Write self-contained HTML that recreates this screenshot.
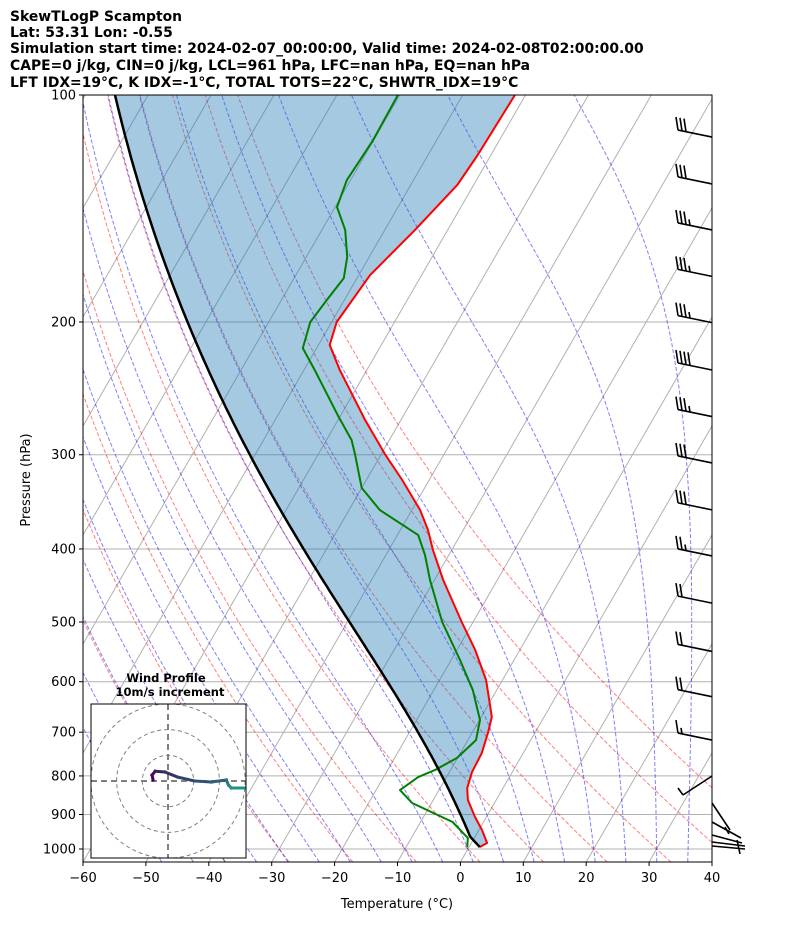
<!DOCTYPE html>
<html><head><meta charset="utf-8">
<style>
body{margin:0;background:#fff;}
svg{display:block;font-family:"DejaVu Sans","Liberation Sans",sans-serif;}
</style></head>
<body>
<svg id="chart" width="794" height="937" viewBox="0 0 794 937" xmlns="http://www.w3.org/2000/svg">
<defs><clipPath id="plotclip"><rect x="83" y="95" width="629" height="767"/></clipPath>
<clipPath id="hodoclip"><rect x="91" y="704" width="155" height="154"/></clipPath></defs>
<g font-weight="bold" font-size="13.9" fill="#000" style="white-space:pre">
<text x="10" y="21">SkewTLogP Scampton</text>
<text x="10" y="37">Lat: 53.31   Lon: -0.55</text>
<text x="10" y="53">Simulation start time: 2024-02-07_00:00:00, Valid time: 2024-02-08T02:00:00.00</text>
<text x="10" y="70">CAPE=0 j/kg, CIN=0 j/kg, LCL=961 hPa, LFC=nan hPa, EQ=nan hPa</text>
<text x="10" y="87">LFT IDX=19°C, K IDX=-1°C, TOTAL TOTS=22°C, SHWTR_IDX=19°C</text>
</g>
<g id="plot" clip-path="url(#plotclip)"></g>
<g id="barbs"></g>
<rect x="83" y="95" width="629" height="767" fill="none" stroke="#000" stroke-width="1"/>
<g id="axes"></g>
<text x="30" y="480" font-size="13" text-anchor="middle" transform="rotate(-90 30 480)">Pressure (hPa)</text>
<text x="397" y="908" font-size="13" text-anchor="middle">Temperature (°C)</text>
<g id="hodo"></g>
</svg>
<script>
// ---- data ----
const tempP=[100,120.1,131.6,151,173.3,200,214.6,231.6,269.8,300,324,355.1,377.5,401.2,439.8,500,544.6,597,644.2,668.3,699.6,746,790.6,830.2,861,907,943.7,981.8,993.9];
const tempC=[-61.7,-62.1,-62.6,-65.2,-68.2,-69.2,-68.2,-64.3,-55.7,-49.3,-44.3,-38.7,-35.6,-33.0,-28.6,-21.8,-17.1,-12.6,-9.7,-8.3,-7.5,-6.6,-6.4,-5.7,-4.5,-1.8,0.5,2.5,1.7];
const dewP=[100,114.7,129.7,140.8,151,164,174.9,187,200,216.6,231.6,265.8,286.9,300,332,355.1,383.4,407.4,439.8,500,561.4,615.4,674.5,717,757.3,785.8,802.8,835.3,868.9,920.9,967.2,993.9];
const dewC=[-80.3,-80.1,-80.6,-79.7,-76.3,-73.5,-72.1,-72.8,-73.4,-72.2,-68.3,-60.5,-56,-54.1,-50,-45.1,-36.7,-33.8,-30.7,-24.9,-18.6,-13.8,-9.9,-8.7,-10.1,-12.5,-14.5,-16.2,-13.1,-4.9,-1.0,-0.3];
const yTicks=[100,200,300,400,500,600,700,800,900,1000];
const xTicks=[-60,-50,-40,-30,-20,-10,0,10,20,30,40];
const dryT0=[-40,-30,-20,-10,0,10,20,30,40,50];
const moistT0=[-50,-45,-40,-35,-30,-25,-20,-15,-10,-5,0,5,10,15,20,25,30,35,40,45];
const barbP=[113.7,131.2,151,174,200.4,231.6,267,307.6,355,408.6,472,547,628,717];
const barbFull=[3,3,3,3,3,4,3,3,3,2,2,2,2,1];
const barbHalf=[0,0,1,1,1,0,1,0,0,1,0,0,0,1];
const hodoU=[-5.8,-6.2,-5.0,-1.2,3.8,10.4,16.9,22.7,23.5,24.6,29.6];
const hodoV=[0.4,2.3,3.8,3.5,1.5,0,-0.4,0.4,-1.5,-2.7,-2.7];
// ---- scales ----
const X0=83,X1=712,Y0=95,Y1=862,SK=0.577,PX=6.29;
function yP(p){return Y0+754*Math.log10(p/100);}
function xT(t,p){return X0+(t+60)*PX+SK*(Y1-yP(p));}
const pBot=100*Math.pow(10,(Y1-Y0)/754);
const NS='http://www.w3.org/2000/svg';
function mk(tag,attrs,parent){const e=document.createElementNS(NS,tag);for(const k in attrs)e.setAttribute(k,attrs[k]);parent.appendChild(e);return e;}
const plot=document.getElementById('plot'),axes=document.getElementById('axes');
// thermo
const Rd=287.04,Cp=1005.7,Lv=2.501e6,eps=0.622;
function es(TK){const c=TK-273.15;return 6.112*Math.exp(17.67*c/(c+243.5));}
function rs(TK,p){const e=es(TK);return eps*e/(p-e);}
function dTdp(T,p){const r=rs(T,p);return (Rd*T+Lv*r)/(Cp+Lv*Lv*r*eps/(Rd*T*T))/p;}
function moistPath(TK,p0,p1,n){const pts=[[p0,TK]];let T=TK,p=p0;const h=(p1-p0)/n;
 for(let i=0;i<n;i++){const k1=dTdp(T,p),k2=dTdp(T+h/2*k1,p+h/2),k3=dTdp(T+h/2*k2,p+h/2),k4=dTdp(T+h*k3,p+h);T+=h/6*(k1+2*k2+2*k3+k4);p+=h;pts.push([p,T]);}return pts;}
function pathD(pts){return pts.map((q,i)=>(i?'L':'M')+xT(q[1]-273.15,q[0]).toFixed(1)+','+yP(q[0]).toFixed(1)).join('');}
// horizontal grid
yTicks.forEach(p=>{const l=mk('line',{x1:X0,x2:X1,y1:yP(p),y2:yP(p),stroke:'#b0b0b0','stroke-width':1},plot);

});
// isotherms
for(let t=-160;t<=40;t+=10){const l=mk('line',{x1:xT(t,pBot),y1:Y1,x2:xT(t,100),y2:Y0,stroke:'#b0b0b0','stroke-width':1},plot);

}
// dry adiabats
dryT0.forEach(t0=>{const th=t0+273.15;const pts=[];for(let i=0;i<=60;i++){const p=pBot+(100-pBot)*i/60;pts.push([p,th*Math.pow(p/1000,0.2857)]);}
const e=mk('path',{d:pathD(pts),fill:'none',stroke:'rgba(255,0,0,0.5)','stroke-width':1,'stroke-dasharray':'4,2'},plot);

});
// moist adiabats
moistT0.forEach(t0=>{const up=moistPath(t0+273.15,1000,100,180);const dn=moistPath(t0+273.15,1000,pBot,10);
const pts=dn.reverse().concat(up.slice(1));
const e=mk('path',{d:pathD(pts),fill:'none',stroke:'rgba(0,0,255,0.5)','stroke-width':1,'stroke-dasharray':'4,2'},plot);

});
// parcel
const n=tempP.length;const ps=tempP[n-1],Ts=tempC[n-1]+273.15,Tds=dewC[dewC.length-1]+273.15;
const r0=rs(Tds,ps);const parcel=[];let p=ps,T=Ts;
while(p>100){T=Ts*Math.pow(p/ps,0.2857);if(rs(T,p)<=r0)break;parcel.push([p,T]);p-=1;}
parcel.push([p,T]);parcel.push(...moistPath(T,p,100,200).slice(1));
// fill (temperature top->bottom, then parcel bottom->top)
const tPts=tempP.map((pp,i)=>[pp,tempC[i]+273.15]);
const fillD=pathD(tPts)+parcel.map(q=>'L'+xT(q[1]-273.15,q[0]).toFixed(1)+','+yP(q[0]).toFixed(1)).join('')+'Z';
const fl=mk('path',{d:fillD,fill:'rgba(31,119,180,0.4)',stroke:'none'},plot);


const tl=mk('path',{d:pathD(tPts),fill:'none',stroke:'#ff0000','stroke-width':2,'stroke-linejoin':'round'},plot);


const dl=mk('path',{d:pathD(dewP.map((pp,i)=>[pp,dewC[i]+273.15])),fill:'none',stroke:'#008000','stroke-width':2,'stroke-linejoin':'round'},plot);


const pl=mk('path',{d:pathD(parcel),fill:'none',stroke:'#000','stroke-width':2.5},plot);


// ticks
yTicks.forEach(pp=>{const y=yP(pp);mk('line',{x1:X0-4,x2:X0,y1:y,y2:y,stroke:'#000'},axes);
const t=mk('text',{x:X0-7,y:y+4.5,'font-size':13,'text-anchor':'end'},axes);t.textContent=pp;

});
xTicks.forEach(tt=>{const x=X0+(tt+60)*PX;mk('line',{x1:x,x2:x,y1:Y1,y2:Y1+4,stroke:'#000'},axes);
const t=mk('text',{x:x,y:Y1+20,'font-size':13,'text-anchor':'middle'},axes);t.textContent=(tt<0?'\u2212':'')+Math.abs(tt);

});
// barbs
const bg=document.getElementById('barbs');
barbP.forEach((pp,i)=>{const y=yP(pp);const g=mk('g',{stroke:'#000','stroke-width':1.6,fill:'none'},bg);


mk('line',{x1:X1,y1:y,x2:X1-34,y2:y-7},g);
for(let k=0;k<barbFull[i];k++){const bx=X1-34+k*4,by=y-7+k*0.8;mk('line',{x1:bx,y1:by,x2:bx-2,y2:by-13},g);}
if(barbHalf[i]){const k=barbFull[i];const bx=X1-34+k*4,by=y-7+k*0.8;mk('line',{x1:bx,y1:by,x2:bx-1,y2:by-6},g);}});
const low=mk('g',{stroke:'#000','stroke-width':1.6},bg);


[[712,776,683,795],[683,795,678,788],[712,803,730,830],[712,822,741,838],[712,835,742,843],[712,842,745,846],[712,846,745,849],[737,840,740,854],[725,827,729,834]].forEach(a=>mk('line',{x1:a[0],y1:a[1],x2:a[2],y2:a[3]},low));
// hodograph
const hg=document.getElementById('hodo');
const t1=mk('text',{x:166,y:682,'font-size':11.5,'font-weight':'bold','text-anchor':'middle'},hg);t1.textContent='Wind Profile';


const t2=mk('text',{x:170,y:696,'font-size':11.5,'font-weight':'bold','text-anchor':'middle'},hg);t2.textContent='10m/s increment';


mk('rect',{x:91,y:704,width:155,height:154,fill:'#fff',stroke:'none'},hg);
const hc=mk('g',{'clip-path':'url(#hodoclip)'},hg);
const HX=168,HY=781,HS=2.57;
[10,20,30].forEach(r=>mk('circle',{cx:HX,cy:HY,r:r*HS,fill:'none',stroke:'#808080','stroke-dasharray':'4,3'},hc));
mk('line',{x1:91,x2:246,y1:HY,y2:HY,stroke:'#808080','stroke-width':2,'stroke-dasharray':'6,4'},hc);
mk('line',{x1:HX,x2:HX,y1:704,y2:858,stroke:'#808080','stroke-width':2,'stroke-dasharray':'6,4'},hc);
for(let i=0;i<hodoU.length-1;i++){const f=i/(hodoU.length-2);
const c='rgb('+Math.round(68-35*f)+','+Math.round(1+144*f)+','+Math.round(84+56*f)+')';
const s=mk('line',{x1:HX+hodoU[i]*HS,y1:HY-hodoV[i]*HS,x2:HX+hodoU[i+1]*HS,y2:HY-hodoV[i+1]*HS,stroke:c,'stroke-width':3,'stroke-linecap':'square'},hc);

}
mk('rect',{x:91,y:704,width:155,height:154,fill:'none',stroke:'#000'},hg);
</script>
</body></html>
